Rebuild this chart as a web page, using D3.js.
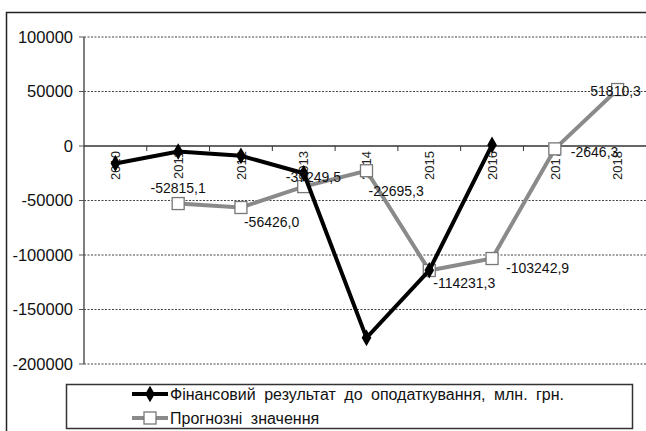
<!DOCTYPE html>
<html>
<head>
<meta charset="utf-8">
<script src="https://cdn.jsdelivr.net/npm/d3@7"></script>
<style>
  body { margin: 0; background: #fff; }
  svg { display: block; font-family: "Liberation Sans", Arial, sans-serif; }
</style>
</head>
<body>
<div id="chart"></div>
<script>
let years = ["2010", "2011", "2012", "2013", "2014", "2015", "2016", "2017", "2018"];
// фактичний фінансовий результат (оцінено з графіка)
let actual = [-16000, -5000, -9000, -25000, -176000, -114000, 1000, null, null];
// прогнозні значення
let forecast = [null, -52815.1, -56426.0, -37249.5, -22695.3, -114231.3, -103242.9, -2646.3, 51810.3];
let forecastLabels = [null, "-52815,1", "-56426,0", "-37249,5", "-22695,3", "-114231,3", "-103242,9", "-2646,3", "51810,3"];
let yTicks = [100000, 50000, 0, -50000, -100000, -150000, -200000];
let seriesNames = ["Фінансовий результат до оподаткування, млн. грн.", "Прогнозні значення"];

let width = 646, height = 431;
let svg = d3.select("#chart").append("svg")
    .attr("width", width)
    .attr("height", height);

// outer frame
svg.append("rect")
    .attr("x", 6.5).attr("y", 12.5)
    .attr("width", 660).attr("height", 440)
    .style("fill", "none").style("stroke", "#222").style("stroke-width", 1.5);

let x = d3.scaleBand().domain(years).range([84, 649]);
let y = d3.scaleLinear().domain([-200000, 100000]).range([364, 37]);
let cx = d => x(d) + x.bandwidth() / 2;

// grid lines
svg.selectAll(".grid").data(yTicks.filter(d => d !== 0)).enter()
    .append("line")
    .attr("x1", 84).attr("x2", width)
    .attr("y1", d => y(d)).attr("y2", d => y(d))
    .style("stroke", "#444").style("stroke-width", 1.2)
    .style("stroke-dasharray", "2,1.5");

// y axis
svg.append("line")
    .attr("x1", 84).attr("x2", 84)
    .attr("y1", y(100000)).attr("y2", y(-200000))
    .style("stroke", "#555").style("stroke-width", 1.5);

svg.selectAll(".ytick").data(yTicks).enter()
    .append("line")
    .attr("x1", 79).attr("x2", 84)
    .attr("y1", d => y(d)).attr("y2", d => y(d))
    .style("stroke", "#555");

svg.selectAll(".ylab").data(yTicks).enter()
    .append("text")
    .attr("x", 73)
    .attr("y", d => y(d))
    .attr("dy", "0.36em")
    .style("text-anchor", "end")
    .style("font-size", "16.5px")
    .style("fill", "#111")
    .text(d => d);

// zero line
svg.append("line")
    .attr("x1", 84).attr("x2", width)
    .attr("y1", y(0)).attr("y2", y(0))
    .style("stroke", "#333").style("stroke-width", 1.5);

svg.selectAll(".xtick").data(years.slice(1)).enter()
    .append("line")
    .attr("x1", d => x(d)).attr("x2", d => x(d))
    .attr("y1", y(0)).attr("y2", y(0) + 5)
    .style("stroke", "#333");

svg.selectAll(".xlab").data(years).enter()
    .append("text")
    .attr("transform", d => "translate(" + cx(d) + "," + (y(0) + 5) + ") rotate(-90)")
    .attr("dy", "0.36em")
    .style("text-anchor", "end")
    .style("font-size", "13px")
    .style("fill", "#222")
    .text(d => d);

let line = d3.line()
    .defined(d => d.v !== null)
    .x(d => cx(d.year))
    .y(d => y(d.v));

let actualData = years.map((yr, i) => ({ year: yr, v: actual[i] }));
let forecastData = years.map((yr, i) => ({ year: yr, v: forecast[i], label: forecastLabels[i] }));

// forecast series (drawn first, underneath)
svg.append("path")
    .datum(forecastData)
    .attr("d", line)
    .style("fill", "none").style("stroke", "#8a8a8a").style("stroke-width", 4);

svg.selectAll(".fpt").data(forecastData.filter(d => d.v !== null)).enter()
    .append("rect")
    .attr("x", d => cx(d.year) - 6).attr("y", d => y(d.v) - 6)
    .attr("width", 12).attr("height", 12)
    .style("fill", "#fff").style("stroke", "#777").style("stroke-width", 1.3);

// actual series
svg.append("path")
    .datum(actualData)
    .attr("d", line)
    .style("fill", "none").style("stroke", "#000").style("stroke-width", 4);

let diamond = d3.symbol().type(d3.symbolDiamond).size(80);
svg.selectAll(".apt").data(actualData.filter(d => d.v !== null)).enter()
    .append("path")
    .attr("transform", d => "translate(" + cx(d.year) + "," + y(d.v) + ")")
    .attr("d", diamond)
    .style("fill", "#000");

// data labels: offsets relative to the point
let labelOffsets = {
    "2011": [0, -16, "middle"],
    "2012": [3, 14, "start"],
    "2013": [-18, -10, "start"],
    "2014": [2, 20, "start"],
    "2015": [4, 12, "start"],
    "2016": [14, 9, "start"],
    "2017": [16, 3, "start"],
    "2018": [-2, 1, "middle"]
};
svg.selectAll(".dlab").data(forecastData.filter(d => d.v !== null)).enter()
    .append("text")
    .attr("x", d => cx(d.year) + labelOffsets[d.year][0])
    .attr("y", d => y(d.v) + labelOffsets[d.year][1])
    .attr("dy", "0.36em")
    .style("text-anchor", d => labelOffsets[d.year][2])
    .style("font-size", "14px")
    .style("fill", "#111")
    .text(d => d.label);

// legend
svg.append("rect")
    .attr("x", 66.5).attr("y", 384.5)
    .attr("width", 566).attr("height", 44)
    .style("fill", "#fff").style("stroke", "#333").style("stroke-width", 1.5);

let legendRows = [394, 418];
svg.append("line")
    .attr("x1", 132).attr("x2", 168)
    .attr("y1", legendRows[0]).attr("y2", legendRows[0])
    .style("stroke", "#000").style("stroke-width", 4);
svg.append("path")
    .attr("transform", "translate(150," + legendRows[0] + ")")
    .attr("d", diamond)
    .style("fill", "#000");
svg.append("line")
    .attr("x1", 132).attr("x2", 168)
    .attr("y1", legendRows[1]).attr("y2", legendRows[1])
    .style("stroke", "#8a8a8a").style("stroke-width", 4);
svg.append("rect")
    .attr("x", 144).attr("y", legendRows[1] - 6)
    .attr("width", 12).attr("height", 12)
    .style("fill", "#fff").style("stroke", "#777").style("stroke-width", 1.3);

svg.selectAll(".ltext").data(seriesNames).enter()
    .append("text")
    .attr("x", 170)
    .attr("y", (d, i) => legendRows[i])
    .attr("dy", "0.36em")
    .style("font-size", "16px")
    .style("word-spacing", "4px")
    .style("fill", "#111")
    .text(d => d);
</script>
</body>
</html>
